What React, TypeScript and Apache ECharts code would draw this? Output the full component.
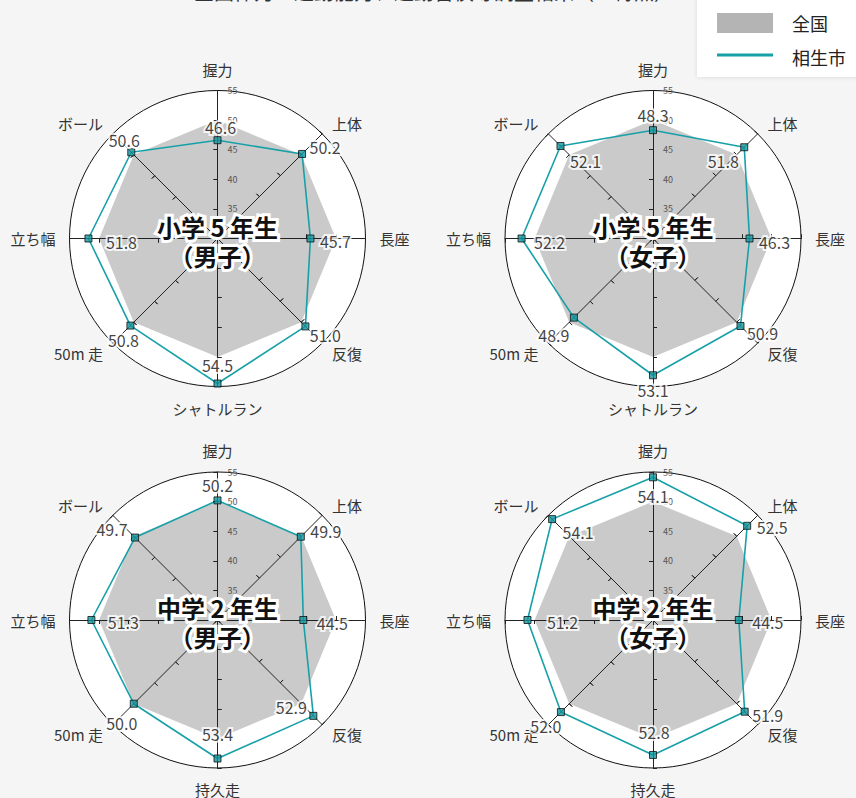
import React, { useEffect, useRef } from "react";
import * as echarts from "echarts";

// ---------- data ----------
const AXES_ELEMENTARY = ["握力", "上体", "長座", "反復", "シャトルラン", "50m 走", "立ち幅", "ボール"];
const AXES_JUNIOR = ["握力", "上体", "長座", "反復", "持久走", "50m 走", "立ち幅", "ボール"];
const PANEL_TITLES = ["小学 5 年生\n（男子）", "小学 5 年生\n（女子）", "中学 2 年生\n（男子）", "中学 2 年生\n（女子）"];
const SERIES_NAMES = ["全国", "相生市"];
const NATIONAL = [50, 50, 50, 50, 50, 50, 50, 50];
const AIOI_ES_BOYS = [46.6, 50.2, 45.7, 51.0, 54.5, 50.8, 51.8, 50.6];
const AIOI_ES_GIRLS = [48.3, 51.8, 46.3, 50.9, 53.1, 48.9, 52.2, 52.1];
const AIOI_JH_BOYS = [50.2, 49.9, 44.5, 52.9, 53.4, 50.0, 51.3, 49.7];
const AIOI_JH_GIRLS = [54.1, 52.5, 44.5, 51.9, 52.8, 52.0, 51.2, 54.1];
const SCALE_MIN = 30;
const SCALE_MAX = 55;
const SCALE_STEP = 5;
const PAGE_TITLE = "全国体力・運動能力、運動習慣等調査結果（Ｔ得点）";

// ---------- layout / style ----------
const FONT = "'Noto Sans CJK JP', 'Noto Sans', sans-serif";
const TEAL = "#17a0a8";
const TEAL_MARK = "#13969e";
const GRAY_AREA = "#cacaca";
const GRAY_LEGEND = "#b4b4b4";
const R = 148;
const CENTERS: [number, number][] = [
  [217.5, 238.5],
  [653, 238.5],
  [217.5, 620],
  [653, 620],
];
// value-label offsets (label centre relative to marker), per panel, per axis
const LABEL_OFFSETS: [number, number][][] = [
  [[3, -13], [23, -7], [25, 2], [20, 9], [0, -19], [-7, 14], [33, 3], [-7, -12]],
  [[0, -15], [-21, 14], [25, 3], [22, 7], [0, 15], [-20, 17], [28, 3], [25, 15]],
  [[0, -15], [25, -6], [29, 3], [-22, -9], [0, -25], [-12, 19], [32, 2], [-23, -9]],
  [[0, 19], [25, 1], [29, 2], [23, 3], [1, -23], [-15, 14], [35, 2], [26, 13]],
];

const PANELS = [
  { axes: AXES_ELEMENTARY, values: AIOI_ES_BOYS },
  { axes: AXES_ELEMENTARY, values: AIOI_ES_GIRLS },
  { axes: AXES_JUNIOR, values: AIOI_JH_BOYS },
  { axes: AXES_JUNIOR, values: AIOI_JH_GIRLS },
];

// radar indicators run counter-clockwise; reorder so the chart reads clockwise
const ORDER = [0, 7, 6, 5, 4, 3, 2, 1];

const valueText = (prm: any) => Number(prm.value[0]).toFixed(1);

function buildOption() {
  const radars: any[] = [];
  const polars: any[] = [];
  const angleAxes: any[] = [];
  const radiusAxes: any[] = [];
  const series: any[] = [];
  const titles: any[] = [];
  const splitCount = (SCALE_MAX - SCALE_MIN) / SCALE_STEP;

  PANELS.forEach((p, k) => {
    const center = CENTERS[k];
    const indicator = ORDER.map((i) => ({ name: p.axes[i], min: SCALE_MIN, max: SCALE_MAX }));
    const geom = { center, radius: R, shape: "circle", startAngle: 90, splitNumber: splitCount, indicator };
    const ringColors = Array.from({ length: splitCount + 1 }, (_, i) => (i === splitCount ? "#111" : "rgba(0,0,0,0)"));
    radars.push({
      ...geom,
      z: 0,
      nameGap: 14,
      axisName: { show: true, color: "#333", fontSize: 15, fontFamily: FONT },
      axisLine: { show: false },
      axisTick: { show: false },
      axisLabel: { show: false },
      splitLine: { show: true, lineStyle: { color: ringColors, width: 1 } },
      splitArea: { show: true, areaStyle: { color: ["#ffffff"] } },
    });
    radars.push({
      ...geom,
      z: 3,
      axisName: { show: false },
      axisLine: { show: true, lineStyle: { color: "#222", width: 1 } },
      axisTick: { show: true, inside: false, length: 4, lineStyle: { color: "#222", width: 1 } },
      axisLabel: { show: false },
      splitLine: { show: false },
      splitArea: { show: false },
    });
    radars.push({
      ...geom,
      z: 3,
      axisName: { show: false },
      axisLine: { show: false },
      axisTick: { show: true, inside: true, length: 4, lineStyle: { color: "#222", width: 1 } },
      axisLabel: { show: false },
      splitLine: { show: false },
      splitArea: { show: false },
    });

    polars.push({ center, radius: R });
    angleAxes.push({
      polarIndex: k,
      type: "category",
      data: p.axes,
      boundaryGap: false,
      startAngle: 90,
      clockwise: true,
      show: false,
    });
    radiusAxes.push({
      polarIndex: k,
      type: "value",
      min: SCALE_MIN,
      max: SCALE_MAX,
      interval: SCALE_STEP,
      z: 3,
      axisLine: { show: false },
      axisTick: { show: false },
      splitLine: { show: false },
      axisLabel: {
        show: true,
        showMinLabel: false,
        fontSize: 9,
        color: "#555",
        fontFamily: FONT,
        margin: -10,
        align: "left",
      },
    });

    series.push({
      type: "radar",
      name: SERIES_NAMES[0],
      radarIndex: 3 * k,
      z: 2,
      silent: true,
      symbol: "none",
      lineStyle: { width: 0, opacity: 0 },
      areaStyle: { color: GRAY_AREA, opacity: 1 },
      itemStyle: { color: GRAY_LEGEND },
      data: [{ value: ORDER.map((i) => NATIONAL[i]) }],
    });
    series.push({
      type: "radar",
      name: SERIES_NAMES[1],
      radarIndex: 3 * k,
      z: 2,
      silent: true,
      symbol: "none",
      lineStyle: { color: TEAL, width: 1.6 },
      itemStyle: { color: TEAL },
      data: [{ value: ORDER.map((i) => p.values[i]) }],
    });
    series.push({
      type: "scatter",
      name: SERIES_NAMES[1],
      coordinateSystem: "polar",
      polarIndex: k,
      z: 5,
      silent: true,
      symbol: "rect",
      symbolSize: 7,
      itemStyle: { color: TEAL_MARK, borderColor: "#111", borderWidth: 1 },
      label: {
        show: true,
        position: "inside",
        align: "center",
        verticalAlign: "middle",
        formatter: valueText,
        fontSize: 16,
        fontFamily: FONT,
        color: "#111",
        textBorderColor: "#fff",
        textBorderWidth: 4,
      },
      data: p.values.map((v, i) => ({ value: [v, i], label: { offset: LABEL_OFFSETS[k][i] } })),
    });

    titles.push({
      text: PANEL_TITLES[k],
      left: center[0],
      top: center[1] + 2,
      padding: 0,
      textAlign: "center",
      textVerticalAlign: "middle",
      z: 8,
      textStyle: {
        fontSize: 24,
        fontWeight: "bold",
        fontFamily: FONT,
        color: "#111",
        lineHeight: 29,
        textBorderColor: "#fff",
        textBorderWidth: 6,
      },
    });
  });

  return {
    animation: false,
    backgroundColor: "#f5f5f5",
    title: titles,
    radar: radars,
    polar: polars,
    angleAxis: angleAxes,
    radiusAxis: radiusAxes,
    series,
    graphic: [
      {
        type: "text",
        x: 434,
        y: 1,
        z: 10,
        style: {
          text: PAGE_TITLE,
          align: "center",
          verticalAlign: "bottom",
          fontSize: 20,
          fontFamily: FONT,
          fill: "#333",
        },
      },
      {
        type: "group",
        z: 10,
        children: [
          {
            type: "rect",
            shape: { x: 697, y: -10, width: 175, height: 87 },
            style: { fill: "#ffffff", shadowBlur: 4, shadowColor: "rgba(0,0,0,0.12)" },
          },
          { type: "rect", shape: { x: 717, y: 13, width: 56, height: 20 }, style: { fill: GRAY_LEGEND } },
          { type: "line", shape: { x1: 717, y1: 55, x2: 773, y2: 55 }, style: { stroke: TEAL, lineWidth: 3 } },
          {
            type: "text",
            x: 792,
            y: 23,
            style: { text: SERIES_NAMES[0], fontSize: 18, fontFamily: FONT, fill: "#222", verticalAlign: "middle" },
          },
          {
            type: "text",
            x: 792,
            y: 57,
            style: { text: SERIES_NAMES[1], fontSize: 18, fontFamily: FONT, fill: "#222", verticalAlign: "middle" },
          },
        ],
      },
    ],
  };
}

export default function App() {
  const ref = useRef<HTMLDivElement>(null);
  useEffect(() => {
    if (!ref.current) return;
    const chart = echarts.init(ref.current, null, { renderer: "svg" });
    chart.setOption(buildOption() as any);
    return () => chart.dispose();
  }, []);
  return <div ref={ref} style={{ position: "fixed", left: 0, top: 0, width: 856, height: 798 }} />;
}
